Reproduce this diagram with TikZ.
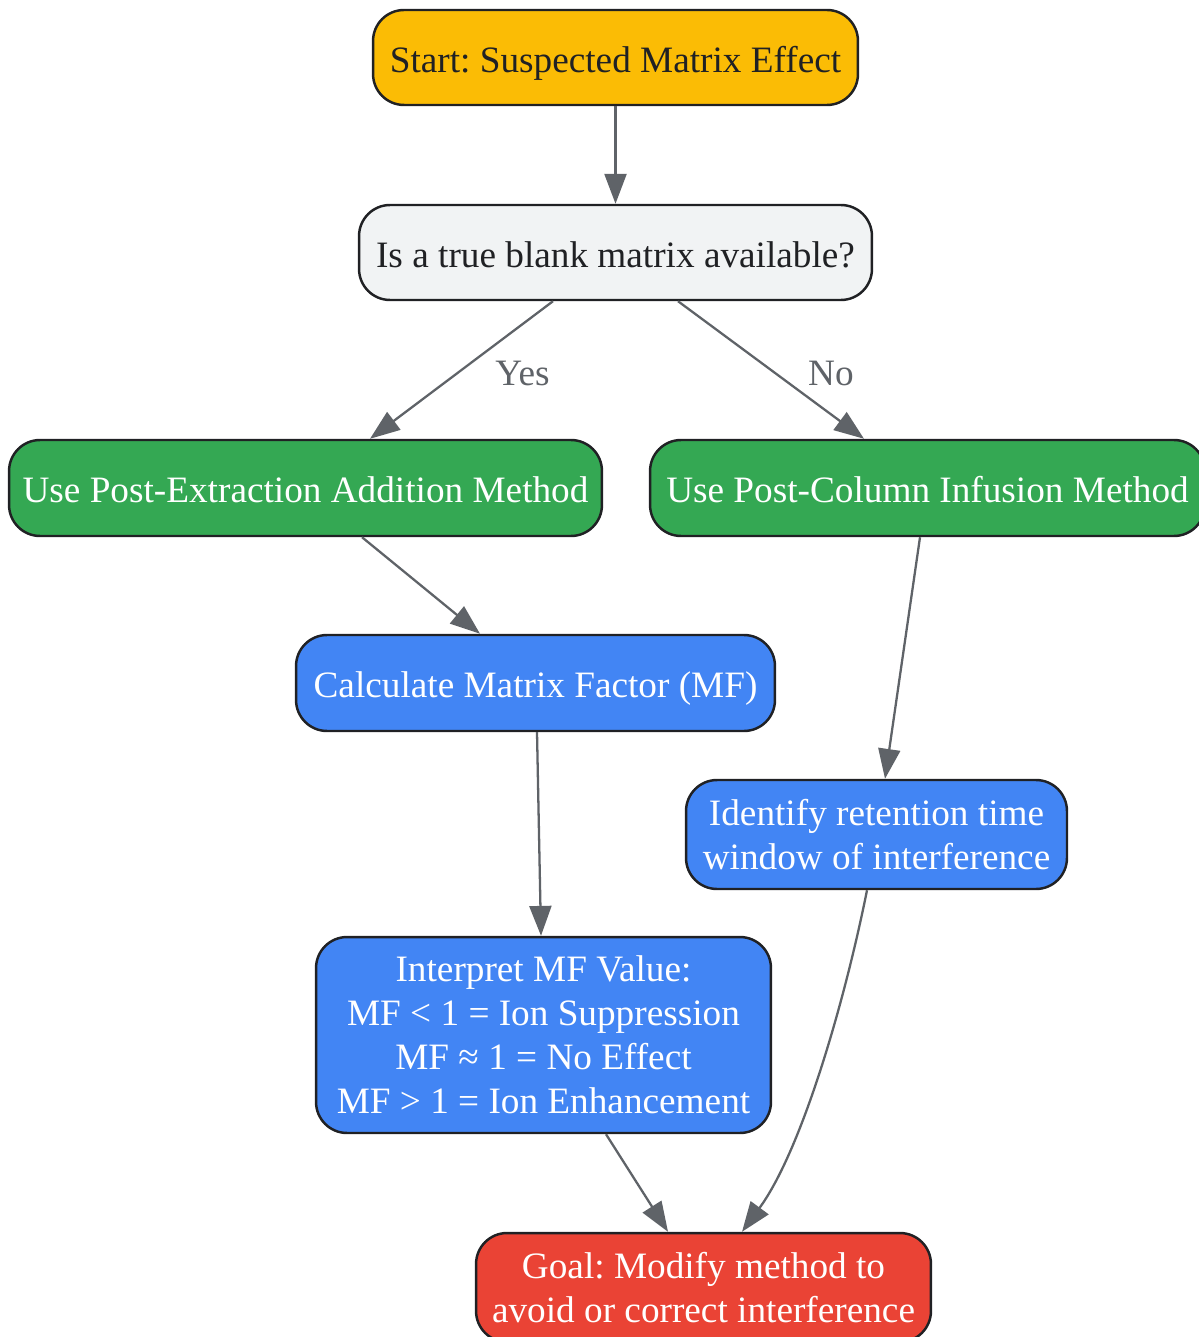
\documentclass[tikz,border=0pt]{standalone}
\usepackage{fontspec}
\setmainfont{Liberation Serif}
\usetikzlibrary{arrows.meta, calc}

\definecolor{startyellow}{HTML}{FBBC05}
\definecolor{blankgray}{HTML}{F1F3F4}
\definecolor{methodgreen}{HTML}{34A853}
\definecolor{stepblue}{HTML}{4285F4}
\definecolor{goalred}{HTML}{EA4335}
\definecolor{darktext}{HTML}{202124}
\definecolor{arrowgray}{HTML}{5F6368}

\begin{document}
\frenchspacing
\begin{tikzpicture}[x=0.02cm, y=-0.02cm,
    every node/.style={font=\fontsize{21.2}{25}\selectfont},
    box/.style={draw=darktext, line width=1.4pt, rounded corners=0.62cm, align=center, inner sep=0pt},
    oneline/.style={text height=19.1pt, text depth=2.5pt},
    flow/.style={-{Triangle[length=17pt, width=12.5pt]}, draw=arrowgray, line width=1.3pt},
    lbl/.style={text=arrowgray, yshift=-0.06cm}]
    \useasboundingbox (0,0) rectangle (1198,1337);

    % Nodes
    \node[box, oneline, fill=startyellow, text=darktext, minimum width=9.7cm, minimum height=1.9cm] (start) at (615.5,57.5) {Start: Suspected Matrix Effect};
    \node[box, oneline, fill=blankgray, text=darktext, minimum width=10.26cm, minimum height=1.9cm] (blank) at (615.5,252.5) {Is a true blank matrix available?};
    \node[box, oneline, fill=methodgreen, text=white, minimum width=11.86cm, minimum height=1.92cm] (postext) at (305.5,488) {Use Post-Extraction Addition Method};
    \node[box, oneline, fill=methodgreen, text=white, minimum width=11.1cm, minimum height=1.92cm] (postcol) at (927.5,488) {Use Post-Column Infusion Method};
    \node[box, oneline, fill=stepblue, text=white, minimum width=9.58cm, minimum height=1.92cm] (calcmf) at (535.5,683) {Calculate Matrix Factor (MF)};
    \node[box, fill=stepblue, text=white, minimum width=7.62cm, minimum height=2.18cm] (rtwindow) at (876.5,834.5) {Identify retention time\\window of interference};
    \node[box, fill=stepblue, text=white, minimum width=9.1cm, minimum height=3.92cm] (interp) at (543.5,1035) {Interpret MF Value:\\MF < 1 = Ion Suppression\\MF ≈ 1 = No Effect\\MF > 1 = Ion Enhancement};
    \node[box, fill=goalred, text=white, minimum width=9.1cm, minimum height=2.18cm] (goal) at (703.5,1287.5) {Goal: Modify method to\\avoid or correct interference};

    % Arrows
    \draw[flow] (start) -- (blank);
    \draw[flow] ($(blank.south)+(-62.5,0)$) -- ($(postext.north)+(64.5,0)$) node[lbl, midway, xshift=1.22cm] (yes) {Yes};
    \draw[flow] ($(blank.south)+(62.5,0)$) -- ($(postcol.north)+(-63.5,0)$) node[lbl, midway, xshift=1.2cm] (no) {No};
    \draw[flow] ($(postext.south)+(56.5,0)$) -- ($(calcmf.north)+(-55.5,0)$);
    \draw[flow] ($(postcol.south)+(-7.5,0)$) -- ($(rtwindow.north)+(8.5,0)$);
    \draw[flow] ($(calcmf.south)+(1.5,0)$) -- ($(interp.north)+(-2.5,0)$);
    \draw[flow] ($(interp.south)+(62.5,0)$) -- ($(goal.north)+(-35.5,0)$);
    \draw[flow] ($(rtwindow.south)+(-9.5,0)$) .. controls (845,1000) and (802,1150) .. ($(goal.north)+(38.5,0)$);
\end{tikzpicture}
\end{document}
